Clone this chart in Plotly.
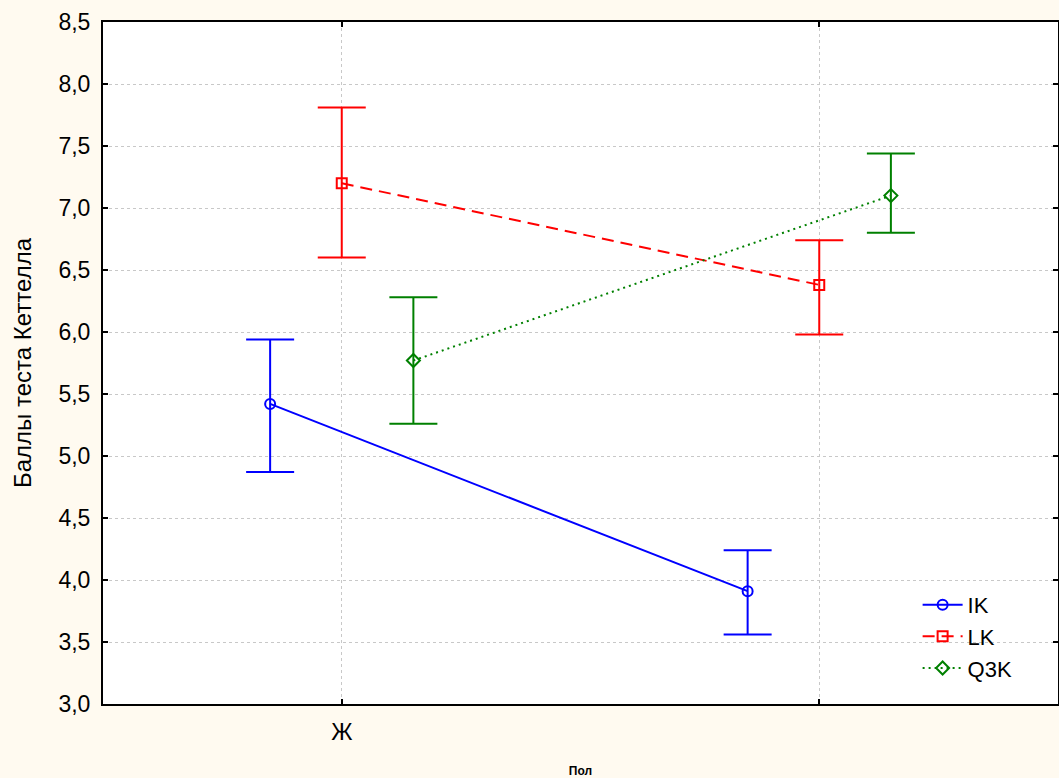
import plotly.graph_objects as go

categories = ["Ж", ""]
series_names = ["IK", "LK", "Q3K"]
ik_mean = [5.42, 3.91]
ik_upper = [5.94, 4.24]
ik_lower = [4.87, 3.56]
lk_mean = [7.20, 6.38]
lk_upper = [7.81, 6.74]
lk_lower = [6.60, 5.98]
q3k_mean = [5.77, 7.10]
q3k_upper = [6.28, 7.44]
q3k_lower = [5.26, 6.80]
y_ticks = [3.0, 3.5, 4.0, 4.5, 5.0, 5.5, 6.0, 6.5, 7.0, 7.5, 8.0, 8.5]

styles = [
    dict(color="#0000FF", dash="solid", symbol="circle-open", offset=-0.15),
    dict(color="#FF0000", dash="12px,7px", symbol="square-open", offset=0.0),
    dict(color="#008000", dash="2px,4px", symbol="diamond-open", offset=0.15),
]
data = [
    (ik_mean, ik_upper, ik_lower),
    (lk_mean, lk_upper, lk_lower),
    (q3k_mean, q3k_upper, q3k_lower),
]

fig = go.Figure()
for name, (m, up, lo), st in zip(series_names, data, styles):
    xs = [i + st["offset"] for i in range(len(categories))]
    fig.add_trace(go.Scatter(
        x=xs, y=m, name=name, mode="lines+markers",
        line=dict(color=st["color"], dash=st["dash"], width=2),
        marker=dict(symbol=st["symbol"], size=10, color=st["color"],
                    line=dict(width=2, color=st["color"])),
        error_y=dict(type="data", symmetric=False,
                     array=[u - v for u, v in zip(up, m)],
                     arrayminus=[v - l for v, l in zip(m, lo)],
                     color=st["color"], thickness=2, width=24),
    ))

ff = "Liberation Sans, Arial, sans-serif"
axis_font = dict(family=ff, size=23, color="#000000")
fig.update_layout(
    width=1059, height=778,
    paper_bgcolor="#FFFAF0", plot_bgcolor="#FFFFFF",
    margin=dict(l=103, r=1, t=22, b=74),
    font=axis_font,
    showlegend=True,
    legend=dict(x=0.853, y=0.176, xanchor="left", yanchor="top",
                bgcolor="rgba(0,0,0,0)", font=dict(size=22, family=ff),
                tracegroupgap=0, itemwidth=40),
    xaxis=dict(
        range=[-0.5, 1.5], tickvals=list(range(len(categories))), ticktext=categories,
        showgrid=True, gridcolor="#c8c8c8", griddash="dot", gridwidth=1,
        zeroline=False, showline=True, linecolor="#000000", linewidth=2, mirror="ticks",
        ticks="inside", ticklen=5, tickcolor="#000000", tickwidth=1.5,
        tickfont=axis_font, automargin=False, ticklabelstandoff=6,
        title=dict(text="<b>Пол</b>", font=dict(size=12, family=ff), standoff=23),
    ),
    yaxis=dict(
        range=[3.0, 8.5], tickvals=y_ticks,
        ticktext=[f"{v:.1f}".replace(".", ",") for v in y_ticks],
        showgrid=True, gridcolor="#c8c8c8", griddash="dot", gridwidth=1,
        zeroline=False, showline=True, linecolor="#000000", linewidth=2, mirror="ticks",
        ticks="inside", ticklen=5, tickcolor="#000000", tickwidth=1.5,
        tickfont=axis_font, automargin=False, ticklabelstandoff=6,
        title=dict(text="Баллы теста Кеттелла", font=dict(family=ff, size=24), standoff=20),
    ),
)
fig.write_html("out.html", config={"displayModeBar": False},
               post_script="document.body.style.margin='0';document.body.style.padding='0';")
